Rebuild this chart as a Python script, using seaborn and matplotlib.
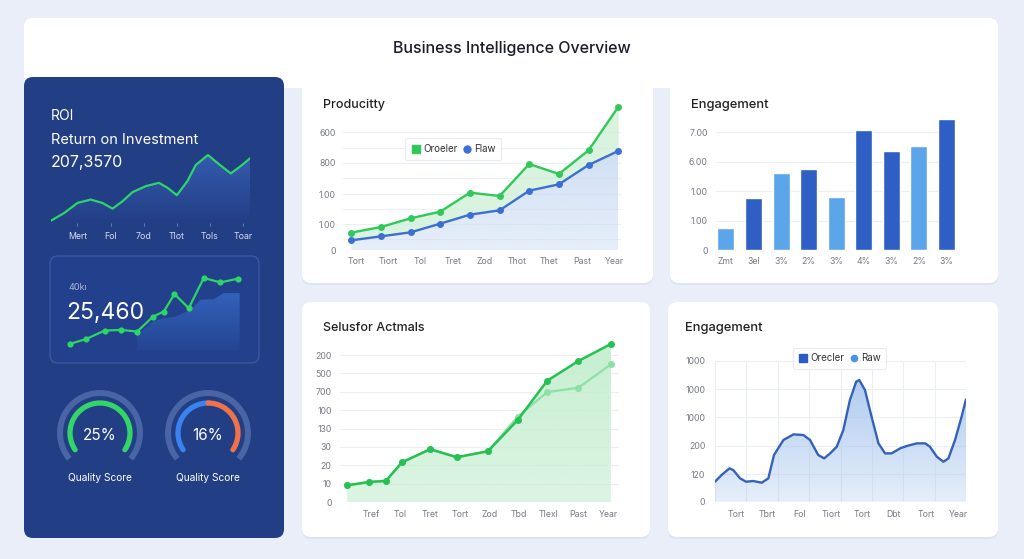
import numpy as np
import pandas as pd
import matplotlib
matplotlib.use("Agg")
import matplotlib.pyplot as plt
from matplotlib.patches import FancyBboxPatch, Arc, Rectangle
from matplotlib.lines import Line2D
from matplotlib.colors import to_rgb
import seaborn as sns

# ---------------- data ----------------
title = "Business Intelligence Overview"

roi_x = [0.2, 0.6, 1.0, 1.4, 1.75, 2.06, 2.36, 2.66, 3.06, 3.46, 3.72, 4.0, 4.32, 4.57, 4.94, 5.28, 5.63, 5.93, 6.21]
roi_y = [7, 30, 60, 70, 60, 43, 65, 92, 110, 120, 105, 83, 125, 173, 203, 175, 148, 170, 193]
roi_labels = ["Mert", "Fol", "7od", "Tlot", "Tols", "Toar"]

kpi_x = [0, 1, 2.1, 3.1, 4.06, 5.02, 5.66, 6.3, 7.16, 8.06, 9.06, 10.12]
kpi_y = [18, 33, 58, 60, 55, 100, 115, 167, 125, 215, 202, 213]
kpi_area_x = [4.06, 5.0, 5.66, 6.4, 7.26, 7.86, 8.66, 9.26, 10.22]
kpi_area_y = [45, 85, 95, 100, 120, 150, 152, 170, 170]

gauge_texts = ["25%", "16%"]

prod_labels = ["Tort", "Tiort", "Tol", "Tret", "Zod", "Thot", "Thet", "Past", "Year"]
prod_green = [52, 69, 95, 115, 172, 162, 258, 228, 299, 429]
prod_blue = [29, 41, 53, 79, 106, 119, 178, 197, 255, 297]
prod_yticklabels = ["0", "1.00", "1.00", "800", "600"]

bar_labels = ["Zmt", "3el", "3%", "2%", "3%", "4%", "3%", "2%", "3%"]
bar_values = [65, 155, 230, 241, 158, 358, 295, 312, 392]
bar_shade = ["light", "dark", "light", "dark", "light", "dark", "dark", "light", "dark"]
bar_yticklabels = ["0", "1.00", "1.00", "6.00", "7.00"]

sales_x = [0.2, 0.95, 1.5, 2.05, 3.0, 3.9, 4.95, 5.95, 6.95, 8.0, 9.1]
sales_dark = [50, 60, 63, 119, 158, 134, 152, 245, 363, 422, 473]
sales_light = [50, 60, 63, 119, 158, 134, 152, 255, 329, 342, 412]
sales_labels = ["Tref", "Tol", "Tret", "Tort", "Zod", "Tbd", "Tlexl", "Past", "Year"]
sales_yticklabels = ["0", "10", "20", "30", "130", "100", "700", "500", "200"]

eng_x = [0.0, 0.21, 0.46, 0.58, 0.80, 0.99, 1.22, 1.49, 1.70, 1.88, 2.18, 2.50, 2.82, 3.03,
         3.29, 3.48, 3.67, 3.88, 4.09, 4.30, 4.50, 4.60, 4.78, 4.99, 5.21, 5.42, 5.63, 5.90,
         6.11, 6.43, 6.70, 6.85, 7.07, 7.28, 7.44, 7.65, 7.86, 8.0]
eng_y = [60, 80, 100, 95, 70, 60, 62, 57, 70, 140, 185, 202, 200, 185,
         140, 130, 145, 165, 215, 305, 360, 365, 335, 255, 175, 145, 145, 160,
         167, 175, 175, 165, 135, 120, 130, 185, 255, 307]
eng_labels = ["Tort", "Tbrt", "Fol", "Tiort", "Tort", "Dbt", "Tort", "Year"]
eng_yticklabels = ["0", "120", "200", "1000", "1000", "1000"]

# ---------------- style ----------------
sns.set_theme(style="white")
plt.rcParams["font.family"] = ["Inter", "DejaVu Sans"]

W, H = 1024, 559
fig = plt.figure(figsize=(W / 100, H / 100), dpi=100)
BG = "#eaeef8"
NAVY = "#223e85"
fig.patch.set_facecolor(BG)


def Y(py):
    return H - py


def rect(l, t, r, b):
    return [l / W, 1 - b / H, (r - l) / W, (b - t) / H]


bg = fig.add_axes([0, 0, 1, 1], zorder=-10)
bg.set_xlim(0, W)
bg.set_ylim(0, H)
bg.axis("off")


def card(l, t, r, b, fc, ec="none", rs=9, lw=0, z=0):
    p = FancyBboxPatch((l, Y(b)), r - l, b - t, boxstyle=f"round,pad=0,rounding_size={rs}",
                       fc=fc, ec=ec, lw=lw, zorder=z)
    bg.add_patch(p)


panels = [(302, 88, 653, 283), (670, 88, 998, 283), (302, 302, 650, 537), (668, 302, 998, 537)]
for (l, t, r, b) in panels:
    card(l, t + 2, r, b + 2, "#dde3f0", z=0)
card(24, 18, 998, 100, "white", z=1)
for (l, t, r, b) in panels:
    card(l, t, r, b, "white", z=1)
bg.add_patch(Rectangle((284, Y(100)), 18, 12, fc=BG, ec="none", zorder=1.5))
bg.add_patch(Rectangle((653, Y(100)), 17, 12, fc=BG, ec="none", zorder=1.5))
card(24, 77, 284, 538, NAVY, z=2)
card(50, 256, 259, 363, "#22408b", ec="#3e5ca3", lw=0.9, rs=8, z=3)

TW = 500
bg.text(512, Y(48), title, ha="center", va="center", fontsize=11.5, color="#1b1d2b", zorder=5, fontweight=TW)
bg.text(323, Y(105), "Producitty", ha="left", va="center", fontsize=9, color="#222", zorder=5, fontweight=TW)
bg.text(691, Y(105), "Engagement", ha="left", va="center", fontsize=9.3, color="#222", zorder=5, fontweight=TW)
bg.text(323, Y(328), "Selusfor Actmals", ha="left", va="center", fontsize=9, color="#222", zorder=5, fontweight=TW)
bg.text(685, Y(328), "Engagement", ha="left", va="center", fontsize=9.3, color="#222", zorder=5, fontweight=TW)

bg.text(51, Y(116), "ROI", ha="left", va="center", fontsize=10, color="white", zorder=5)
bg.text(51, Y(140), "Return on Investment", ha="left", va="center", fontsize=10.5, color="white", zorder=5)
bg.text(51, Y(163), "207,3570", ha="left", va="center", fontsize=11.5, color="white", zorder=5)
bg.text(68, Y(288), "40kı", ha="left", va="center", fontsize=6.5, color="#a9b7da", zorder=5)
bg.text(66, Y(313), "25,460", ha="left", va="center", fontsize=16.5, color="white", zorder=5)

# gauges
TRACK = "#4a65a6"
for cx, txt in zip([100, 208], gauge_texts):
    bg.add_patch(Arc((cx, Y(433)), 80, 80, theta1=-40, theta2=220, color=TRACK, lw=4.3, zorder=4))
    bg.text(cx, Y(435), txt, ha="center", va="center", fontsize=11, color="white", zorder=5)
    bg.text(cx, Y(478), "Quality Score", ha="center", va="center", fontsize=7.3, color="white", zorder=5)
for cx, t1, t2, col in [(100, -34, 214, "#33d468"), (208, 90, 214, "#3a82ee"), (208, -34, 90, "#f0714a")]:
    a = Arc((cx, Y(433)), 60, 60, theta1=t1, theta2=t2, color=col, lw=3.8, zorder=5)
    a.set_capstyle("round")
    bg.add_patch(a)


def gradient_fill(ax, x, y, color, a_top, a_bot, y0=0, z=1):
    poly = ax.fill_between(x, y, y0, color="none", lw=0)
    rgb = to_rgb(color)
    img = np.zeros((100, 1, 4))
    img[:, :, :3] = rgb
    img[:, 0, 3] = np.linspace(a_bot, a_top, 100)
    xl, yl = ax.get_xlim(), ax.get_ylim()
    im = ax.imshow(img, aspect="auto", origin="lower",
                   extent=[min(x), max(x), y0, max(y)], zorder=z, interpolation="bilinear")
    im.set_clip_path(poly.get_paths()[0], transform=ax.transData)
    ax.set_xlim(xl)
    ax.set_ylim(yl)


def clean(ax):
    for s in ax.spines.values():
        s.set_visible(False)
    ax.set_facecolor("none")
    ax.set_xlabel("")
    ax.set_ylabel("")


def unclip(ax):
    for ln in ax.lines:
        ln.set_clip_on(False)


# ---------- ROI sparkline ----------
ax = fig.add_axes(rect(51, 151, 250, 223))
ax.set_xlim(0.2, 6.21)
ax.set_ylim(0, 215)
gradient_fill(ax, roi_x, roi_y, "#3b66bd", 0.75, 0.0)
sns.lineplot(x=roi_x, y=roi_y, ax=ax, color="#2fd46a", lw=1.6)
ax.set_xticks(range(1, 7))
ax.set_xticklabels(roi_labels)
ax.set_yticks([])
ax.tick_params(axis="x", colors="#5f79b8", length=2.5, width=0.8, pad=4, labelsize=6.3, labelcolor="#d5ddef",
               bottom=True, direction="out")
clean(ax)

# ---------- KPI card chart ----------
ax = fig.add_axes(rect(68, 273, 241, 350))
ax.set_xlim(-0.1, 10.3)
ax.set_ylim(0, 230)
gradient_fill(ax, kpi_area_x, kpi_area_y, "#3463bd", 0.95, 0.15, y0=0)
sns.lineplot(x=kpi_x, y=kpi_y, ax=ax, color="#2fd466", lw=1.6, marker="o", markersize=4.5,
             markeredgewidth=0, zorder=3)
unclip(ax)
ax.set_xticks([])
ax.set_yticks([])
clean(ax)

# ---------- Productivity ----------
ax = fig.add_axes(rect(343, 105, 620, 250))
ax.set_xlim(-0.28, 9.06)
ax.set_ylim(0, 435)
px = list(range(len(prod_green)))
for gy in [32, 77, 122, 167, 217, 262, 307, 354]:
    ax.axhline(gy, color="#eceef3", lw=0.8, zorder=0)
ax.fill_between(px, prod_green, prod_blue, color="#d3f1da", alpha=0.85, lw=0, zorder=1)
gradient_fill(ax, px, prod_blue, "#c9daf3", 0.85, 0.45)
sns.lineplot(x=px, y=prod_green, ax=ax, color="#30c85a", lw=1.7, marker="o", markersize=5,
             markeredgewidth=0, zorder=3)
sns.lineplot(x=px, y=prod_blue, ax=ax, color="#3b6fd2", lw=1.7, marker="o", markersize=5,
             markeredgewidth=0, zorder=3)
unclip(ax)
ax.set_yticks([0, 77, 167, 262, 354])
ax.set_yticklabels(prod_yticklabels)
ax.set_xticks(np.linspace(0.15, 8.86, 9))
ax.set_xticklabels(prod_labels)
ax.tick_params(length=0, labelsize=6.3, labelcolor="#777b85")
ax.tick_params(axis="y", pad=5)
ax.tick_params(axis="x", pad=5)
clean(ax)
h = [Line2D([], [], ls="none", marker="s", color="#30c85a", markersize=5.5),
     Line2D([], [], ls="none", marker="o", color="#3b6fd2", markersize=5)]
leg = ax.legend(h, ["Oroeler", "Flaw"], loc="center", bbox_to_anchor=(0.398, 0.697), ncol=2,
                fontsize=7, frameon=True, handletextpad=0.2, columnspacing=0.5, borderpad=0.6,
                handlelength=1.0, fancybox=True)
leg.get_frame().set_edgecolor("#e3e6ee")
leg.get_frame().set_linewidth(0.8)
for t in leg.get_texts():
    t.set_color("#333")

# ---------- Engagement bars ----------
ax = fig.add_axes(rect(716, 118, 955, 250))
for gy in [88, 176, 264, 352]:
    ax.axhline(gy, color="#eceef3", lw=0.8, zorder=0)
df = pd.DataFrame({"pos": range(len(bar_values)), "v": bar_values, "shade": bar_shade})
sns.barplot(data=df, x="pos", y="v", hue="shade", palette={"light": "#5ba6ea", "dark": "#2f5ec4"},
            dodge=False, legend=False, width=0.62, ax=ax, zorder=2, saturation=1)
ax.set_xlim(-0.36, 8.31)
ax.set_ylim(0, 395)
ax.set_yticks([0, 88, 176, 264, 352])
ax.set_yticklabels(bar_yticklabels)
ax.set_xticks(range(len(bar_labels)))
ax.set_xticklabels(bar_labels)
ax.tick_params(length=0, labelsize=6.3, labelcolor="#777b85")
ax.tick_params(axis="y", pad=6)
ax.tick_params(axis="x", pad=5)
clean(ax)

# ---------- Sales ----------
ax = fig.add_axes(rect(340, 340, 618, 502))
ax.set_xlim(-0.045, 9.34)
ax.set_ylim(0, 485)
for gy in [55, 110, 165, 220, 275, 330, 385, 440]:
    ax.axhline(gy, color="#eceef3", lw=0.8, zorder=0)
gradient_fill(ax, sales_x, sales_dark, "#c4eecf", 0.95, 0.6)
sns.lineplot(x=sales_x, y=sales_light, ax=ax, color="#8ee0a6", lw=1.6, marker="o", markersize=5,
             markeredgewidth=0, zorder=3)
sns.lineplot(x=sales_x, y=sales_dark, ax=ax, color="#27c052", lw=1.8, marker="o", markersize=5,
             markeredgewidth=0, zorder=4)
unclip(ax)
ax.set_yticks([0, 55, 110, 165, 220, 275, 330, 385, 440])
ax.set_yticklabels(sales_yticklabels)
ax.set_xticks(range(1, 10))
ax.set_xticklabels(sales_labels)
ax.tick_params(length=0, labelsize=6.3, labelcolor="#777b85")
ax.tick_params(axis="y", pad=6)
ax.tick_params(axis="x", pad=6)
clean(ax)

# ---------- Engagement line ----------
ax = fig.add_axes(rect(715, 360.7, 966, 501.7))
ax.set_xlim(0, 8)
ax.set_ylim(0, 423)
for gy in [83, 168, 253, 338, 423]:
    ax.axhline(gy, color="#eceef3", lw=0.8, zorder=0)
for gx in range(0, 9):
    ax.axvline(gx, color="#eceef3", lw=0.8, zorder=0)
gradient_fill(ax, eng_x, eng_y, "#a9c6ef", 0.9, 0.3)
sns.lineplot(x=eng_x, y=eng_y, ax=ax, color="#3462b8", lw=1.7, zorder=3)
ax.set_yticks([0, 83, 168, 253, 338, 423])
ax.set_yticklabels(eng_yticklabels)
ax.set_xticks([0.66, 1.67, 2.71, 3.69, 4.70, 5.69, 6.72, 7.76])
ax.set_xticklabels(eng_labels)
ax.tick_params(length=0, labelsize=6.3, labelcolor="#777b85")
ax.tick_params(axis="y", pad=7)
ax.tick_params(axis="x", pad=6)
clean(ax)
h = [Line2D([], [], ls="none", marker="s", color="#2a5cc4", markersize=5.5),
     Line2D([], [], ls="none", marker="o", color="#4d94e0", markersize=4.5)]
leg = ax.legend(h, ["Orecler", "Raw"], loc="center", bbox_to_anchor=(0.496, 1.016), ncol=2,
                fontsize=7, frameon=True, handletextpad=0.2, columnspacing=0.5, borderpad=0.6,
                handlelength=1.0, fancybox=True)
leg.get_frame().set_edgecolor("#e3e6ee")
leg.get_frame().set_linewidth(0.8)
for t in leg.get_texts():
    t.set_color("#333")

fig.savefig("out.png", dpi=100, facecolor=BG)
